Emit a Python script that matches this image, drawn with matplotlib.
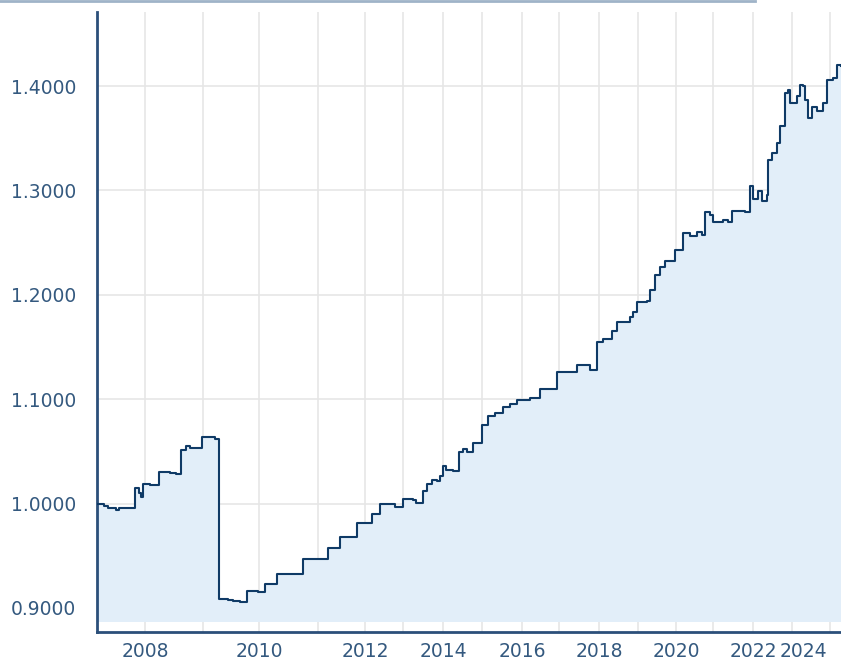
import numpy as np
import matplotlib
matplotlib.use("Agg")
import matplotlib.pyplot as plt
from matplotlib.transforms import ScaledTranslation

# ---- data (decimal year, value) ----
years = [2007.17, 2007.29, 2007.36, 2007.50, 2007.55, 2007.83, 2007.90, 2007.93, 2007.97,
         2008.09, 2008.24, 2008.43, 2008.53, 2008.62, 2008.71, 2008.78, 2008.98, 2009.04,
         2009.21, 2009.29, 2009.45, 2009.54, 2009.66, 2009.79, 2009.98, 2010.10, 2010.31,
         2010.75, 2011.21, 2011.47, 2011.83, 2012.18, 2012.39, 2012.79, 2013.00, 2013.25,
         2013.33, 2013.50, 2013.60, 2013.73, 2013.85, 2013.93, 2014.00, 2014.08, 2014.26,
         2014.41, 2014.51, 2014.62, 2014.77, 2015.00, 2015.15, 2015.33, 2015.53, 2015.70,
         2015.88, 2016.22, 2016.49, 2016.95, 2017.45, 2017.78, 2017.95, 2018.10, 2018.33,
         2018.46, 2018.79, 2018.87, 2018.97, 2019.24, 2019.32, 2019.45, 2019.58, 2019.71,
         2019.97, 2020.19, 2020.38, 2020.57, 2020.70, 2020.78, 2020.92, 2021.00, 2021.25,
         2021.38, 2021.48, 2021.80, 2021.93, 2022.00, 2022.13, 2022.23, 2022.36, 2022.38,
         2022.49, 2022.62, 2022.69, 2022.82, 2022.90, 2022.95, 2023.13, 2023.21, 2023.29,
         2023.34, 2023.42, 2023.53, 2023.66, 2023.82, 2023.92, 2024.08, 2024.18, 2024.29]
values = [1.000, 0.998, 0.9955, 0.994, 0.9955, 1.0147, 1.010, 1.0066, 1.019,
          1.018, 1.030, 1.029, 1.028, 1.051, 1.055, 1.053, 1.0635, 1.064,
          1.062, 0.9085, 0.908, 0.9066, 0.9055, 0.916, 0.915, 0.9227, 0.9326,
          0.947, 0.9572, 0.968, 0.981, 0.990, 0.9995, 0.997, 1.0044, 1.0035,
          1.001, 1.0124, 1.019, 1.023, 1.022, 1.026, 1.036, 1.032, 1.031,
          1.0497, 1.052, 1.049, 1.0585, 1.0753, 1.084, 1.087, 1.093, 1.095,
          1.099, 1.101, 1.110, 1.126, 1.133, 1.128, 1.1545, 1.158, 1.165,
          1.174, 1.179, 1.184, 1.193, 1.194, 1.205, 1.219, 1.227, 1.232,
          1.243, 1.259, 1.256, 1.260, 1.257, 1.279, 1.276, 1.270, 1.272,
          1.270, 1.280, 1.279, 1.304, 1.292, 1.299, 1.290, 1.296, 1.329,
          1.336, 1.345, 1.362, 1.393, 1.396, 1.384, 1.390, 1.401, 1.400,
          1.387, 1.369, 1.380, 1.376, 1.384, 1.406, 1.408, 1.420, 1.419]

grid_years = list(range(2008, 2025))
label_years = [2008, 2010, 2012, 2014, 2016, 2018, 2020, 2022, 2024]
y_ticks = [0.9, 1.0, 1.1, 1.2, 1.3, 1.4]

# ---- ordinal-like axis scale (uneven year spacing as in the reference) ----
anchor_years = np.arange(2007, 2026)
anchor_pos = np.array([87, 145, 203, 259, 318, 365, 403, 443, 482, 522, 559, 599,
                       638, 676, 713, 753, 792, 830, 868], dtype=float)

def fwd(x):
    return np.interp(x, anchor_years, anchor_pos)

def inv(p):
    return np.interp(p, anchor_pos, anchor_years)

W, H = 841, 662
fig = plt.figure(figsize=(W / 100, H / 100), dpi=100)
ax = fig.add_axes([97 / W, 30 / H, (W - 97) / W, (632 - 12) / H])
ax.set_xscale('function', functions=(fwd, inv))

ax.set_xlim(2007.17, 2024.29)
ax.set_ylim(0.877, 1.4709)

line_c = '#0f3a66'
fill_c = '#e2eef9'
ax.fill_between(years, values, 0.8866, step='post', color=fill_c, lw=0, zorder=1)
ax.plot(years, values, drawstyle='steps-post', color=line_c, lw=1.5, zorder=3)

ax.set_xticks(grid_years)
ax.set_xticklabels([str(y) if y in label_years else '' for y in grid_years])
ax.set_yticks(y_ticks)
ax.set_yticklabels([f"{v:.4f}" for v in y_ticks])
ax.grid(True, color='#e6e6e6', lw=1.2, zorder=0)
ax.set_axisbelow(True)

tick_c = '#34597f'
ax.tick_params(axis='both', length=0, labelsize=13.5, labelcolor=tick_c)
ax.tick_params(axis='y', pad=15)
ax.tick_params(axis='x', pad=7)

for lab in ax.get_xticklabels():
    if lab.get_text() == '2024':
        lab.set_transform(lab.get_transform() + ScaledTranslation(-0.27, 0, fig.dpi_scale_trans))

for s in ['top', 'right']:
    ax.spines[s].set_visible(False)
for s in ['left', 'bottom']:
    ax.spines[s].set_color('#2b4f7a')
    ax.spines[s].set_linewidth(2)

# thin border line at the top of the image
fig.add_artist(plt.Line2D([0, 755 / W], [1 - 1 / H, 1 - 1 / H], transform=fig.transFigure,
                          color='#9fb3c8', lw=2))

fig.savefig('out.png', dpi=100)
